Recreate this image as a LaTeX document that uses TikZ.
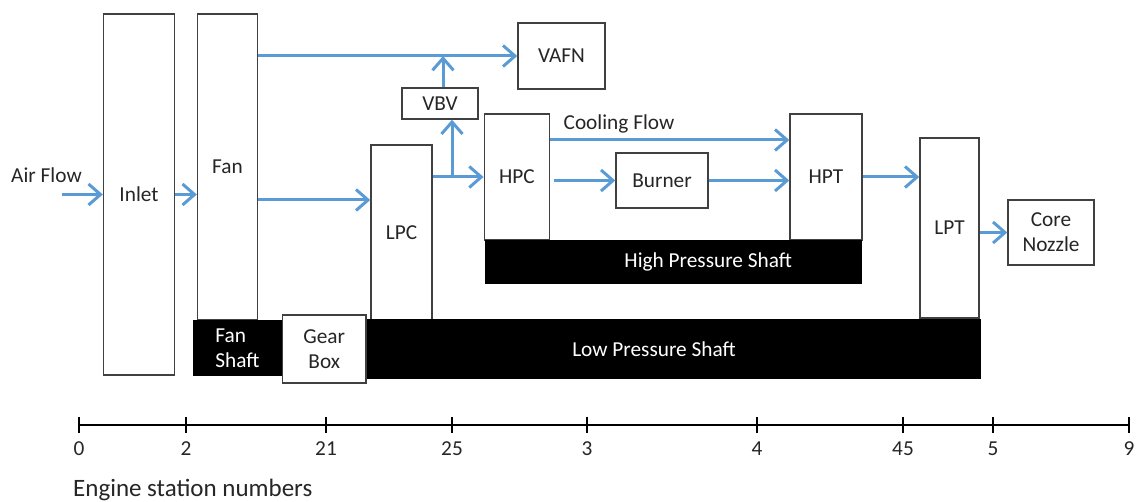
\documentclass[tikz,border=0pt]{standalone}
\usepackage{fontspec}
\setmainfont{Carlito}
\usetikzlibrary{arrows.meta}
\definecolor{flowblue}{HTML}{5B9BD5}
\definecolor{edgegray}{HTML}{404040}
\begin{document}
\begin{tikzpicture}[x=1pt,y=-1pt,
  every node/.style={font=\fontsize{21.3}{25}\selectfont,text=black!85},
  blk/.style={draw=edgegray,line width=1.4pt,fill=white,inner sep=0pt},
  shaft/.style={fill=black,inner sep=0pt},
  shafttext/.style={text=white,align=left},
  flow/.style={draw=flowblue,line width=3pt,-{Straight Barb[length=12pt,width=21pt]}}]
\useasboundingbox (0,0) rectangle (1136,502);
% engine blocks
\node[blk,minimum width=71pt,minimum height=361pt] (inlet) at (139,194.5) {Inlet};
\node[blk,minimum width=60pt,minimum height=306pt] (fan) at (227.5,167) {Fan};
\node[blk,minimum width=61pt,minimum height=175pt] (lpc) at (401.5,232.5) {LPC};
\node[blk,minimum width=76pt,minimum height=31pt] (vbv) at (440,103.5) {VBV};
\node[blk,minimum width=87pt,minimum height=66pt] (vafn) at (561.5,56) {VAFN};
\node[blk,minimum width=65.5pt,minimum height=126pt] (hpc) at (517,177) {HPC};
\node[blk,minimum width=92pt,minimum height=55pt] (burner) at (662,180.5) {Burner};
\node[blk,minimum width=72pt,minimum height=126pt] (hpt) at (826,177) {HPT};
\node[blk,minimum width=59pt,minimum height=180pt] (lpt) at (949.5,228) {LPT};
\node[blk,minimum width=86pt,minimum height=65pt,align=center] (nozzle) at (1051,232.5) {Core\\Nozzle};
% shafts
\node[shaft,minimum width=377.5pt,minimum height=44pt] (hps) at (673.25,262) {};
\node[shafttext] (hpslabel) at ([xshift=35pt]hps.center) {High Pressure Shaft};
\node[shaft,minimum width=654pt,minimum height=60pt] (lps) at (654,349.5) {};
\node[shafttext] (lpslabel) at (lps.center) {Low Pressure Shaft};
\node[shaft,minimum width=89pt,minimum height=56pt] (fanshaft) at (237.5,348) {};
\node[shafttext] (fanshaftlabel) at (fanshaft.center) {Fan\\Shaft};
\node[blk,minimum width=83.5pt,minimum height=68pt,align=center] (gearbox) at (324.25,349) {Gear\\Box};
% flows
\coordinate (air) at (62,194.5);
\node (airlabel) at (46.5,175) {Air Flow};
\node (coollabel) at (619,124) {Cooling Flow};
\draw[flow] (air) -- (air -| inlet.west);
\draw[flow] (inlet.east) -- (inlet.east -| fan.west);
\draw[flow] (fan.east |- vafn.west) -- (vafn.west);
\draw[flow] ([yshift=-33pt]fan.east) -- ([yshift=-33pt]fan.east -| lpc.west);
\draw[flow] (lpc.east |- hpc.west) -- (hpc.west);
\draw[flow] ([xshift=12pt]vbv.south |- hpc.west) -- ([xshift=12pt]vbv.south);
\draw[flow] ([xshift=3pt]vbv.north) -- ([xshift=3pt]vbv.north |- vafn.west);
\draw[flow] ([yshift=37pt]hpc.east) -- ([yshift=37pt]hpc.east -| hpt.west);
\draw[flow] ([xshift=4pt]hpc.east |- burner.west) -- (burner.west);
\draw[flow] (burner.east) -- (burner.east -| hpt.west);
\draw[flow] (hpt.east) -- (hpt.east -| lpt.west);
\draw[flow] (lpt.east |- nozzle.west) -- (nozzle.west);
% station axis
\draw[line width=2.5pt] (79,425) -- (1129,425);
\foreach \px/\stn in {79/0,186/2,326/21,452/25,587/3,757/4,903/45,993/5,1129/9}{
  \draw[line width=2pt] (\px,417) -- (\px,433);
  \node (st\stn) at (\px,449) {\stn};
}
\node[anchor=west,inner sep=0pt,font=\fontsize{25}{30}\selectfont] (axtitle) at (73,490) {Engine station numbers};
\end{tikzpicture}
\end{document}
